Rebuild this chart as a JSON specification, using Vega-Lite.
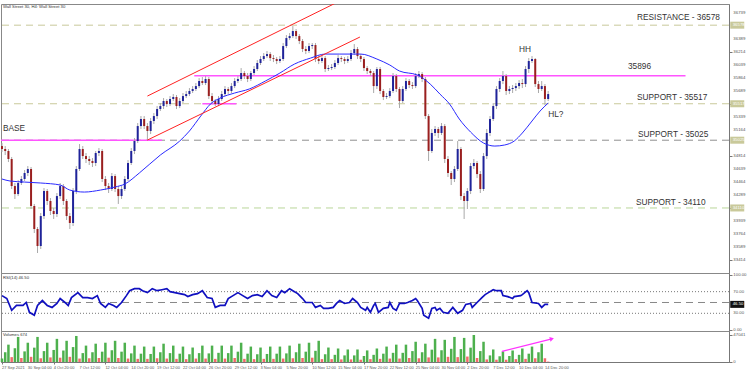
{
  "$schema": "https://vega.github.io/schema/vega-lite/v6.json",
  "background": "white",
  "padding": {"left": -2, "top": 3, "right": 0, "bottom": 0},
  "spacing": 0,
  "bounds": "flush",
  "config": {
    "view": {"stroke": "#888888", "strokeWidth": 1},
    "font": "Liberation Sans",
    "scale": {"continuousPadding": 0},
    "axis": {"labelFont": "Liberation Sans", "labelFontSize": 5, "labelColor": "#555555", "tickColor": "#777777", "domainColor": "#777777", "tickSize": 3, "labelPadding": 1, "grid": false, "title": null}
  },
  "datasets": {
    "candles": [
{"i":0,"o":34946,"h":34987,"l":34865,"c":34906,"v":6000},
{"i":2,"o":34906,"h":34946,"l":34825,"c":34879,"v":17000},
{"i":4,"o":34879,"h":34906,"l":34730,"c":34771,"v":30240},
{"i":6,"o":34771,"h":34798,"l":34366,"c":34406,"v":8500},
{"i":8,"o":34406,"h":34447,"l":34231,"c":34298,"v":24000},
{"i":10,"o":34298,"h":34487,"l":34271,"c":34447,"v":43680},
{"i":12,"o":34447,"h":34541,"l":34420,"c":34501,"v":7000},
{"i":14,"o":34501,"h":34622,"l":34474,"c":34582,"v":18500},
{"i":16,"o":34582,"h":34676,"l":34541,"c":34636,"v":33600},
{"i":18,"o":34636,"h":34663,"l":34096,"c":34137,"v":9000},
{"i":20,"o":34137,"h":34164,"l":33772,"c":33826,"v":25000},
{"i":22,"o":33826,"h":33853,"l":33502,"c":33596,"v":43680},
{"i":24,"o":33596,"h":34042,"l":33556,"c":34001,"v":6500},
{"i":26,"o":34001,"h":34379,"l":33961,"c":34339,"v":19000},
{"i":28,"o":34339,"h":34366,"l":34150,"c":34204,"v":33600},
{"i":30,"o":34204,"h":34244,"l":34015,"c":34069,"v":8000},
{"i":32,"o":34069,"h":34110,"l":33961,"c":34028,"v":21000},
{"i":34,"o":34028,"h":34312,"l":33988,"c":34271,"v":40320},
{"i":36,"o":34271,"h":34447,"l":34231,"c":34406,"v":7500},
{"i":38,"o":34406,"h":34433,"l":34150,"c":34204,"v":20000},
{"i":40,"o":34204,"h":34231,"l":33947,"c":34001,"v":36960},
{"i":42,"o":34001,"h":34042,"l":33826,"c":33907,"v":9000},
{"i":44,"o":33907,"h":34379,"l":33866,"c":34339,"v":26000},
{"i":46,"o":34339,"h":34676,"l":34298,"c":34636,"v":45360},
{"i":48,"o":34636,"h":34973,"l":34609,"c":34906,"v":6000},
{"i":50,"o":34906,"h":34946,"l":34771,"c":34811,"v":15500},
{"i":52,"o":34811,"h":34852,"l":34717,"c":34771,"v":28560},
{"i":54,"o":34771,"h":34811,"l":34690,"c":34744,"v":6500},
{"i":56,"o":34744,"h":34784,"l":34663,"c":34717,"v":17000},
{"i":58,"o":34717,"h":34879,"l":34676,"c":34852,"v":31920},
{"i":60,"o":34852,"h":34919,"l":34811,"c":34879,"v":7000},
{"i":62,"o":34879,"h":34906,"l":34460,"c":34501,"v":18000},
{"i":64,"o":34501,"h":34541,"l":34352,"c":34406,"v":33600},
{"i":66,"o":34406,"h":34447,"l":34312,"c":34366,"v":7500},
{"i":68,"o":34366,"h":34582,"l":34339,"c":34541,"v":20500},
{"i":70,"o":34541,"h":34568,"l":34325,"c":34366,"v":36960},
{"i":72,"o":34366,"h":34406,"l":34164,"c":34271,"v":7000},
{"i":74,"o":34271,"h":34406,"l":34231,"c":34366,"v":18000},
{"i":76,"o":34366,"h":34541,"l":34339,"c":34501,"v":33600},
{"i":78,"o":34501,"h":34757,"l":34474,"c":34717,"v":6000},
{"i":80,"o":34717,"h":34919,"l":34690,"c":34879,"v":15000},
{"i":82,"o":34879,"h":35054,"l":34838,"c":35014,"v":28560},
{"i":84,"o":35014,"h":35257,"l":34987,"c":35216,"v":5500},
{"i":86,"o":35216,"h":35351,"l":35176,"c":35311,"v":14500},
{"i":88,"o":35311,"h":35351,"l":35176,"c":35216,"v":26880},
{"i":90,"o":35216,"h":35257,"l":35027,"c":35149,"v":5500},
{"i":92,"o":35149,"h":35324,"l":35108,"c":35284,"v":14000},
{"i":94,"o":35284,"h":35392,"l":35243,"c":35351,"v":26880},
{"i":96,"o":35351,"h":35486,"l":35311,"c":35446,"v":6500},
{"i":98,"o":35446,"h":35527,"l":35419,"c":35486,"v":17000},
{"i":100,"o":35486,"h":35594,"l":35446,"c":35554,"v":31920},
{"i":102,"o":35554,"h":35581,"l":35473,"c":35513,"v":6000},
{"i":104,"o":35513,"h":35621,"l":35486,"c":35581,"v":15500},
{"i":106,"o":35581,"h":35648,"l":35554,"c":35608,"v":28560},
{"i":108,"o":35608,"h":35635,"l":35446,"c":35486,"v":5500},
{"i":110,"o":35486,"h":35594,"l":35459,"c":35554,"v":14500},
{"i":112,"o":35554,"h":35662,"l":35527,"c":35621,"v":26880},
{"i":114,"o":35621,"h":35689,"l":35594,"c":35648,"v":5000},
{"i":116,"o":35648,"h":35729,"l":35621,"c":35689,"v":13500},
{"i":118,"o":35689,"h":35756,"l":35662,"c":35716,"v":25200},
{"i":120,"o":35716,"h":35797,"l":35689,"c":35756,"v":6000},
{"i":122,"o":35756,"h":35864,"l":35729,"c":35824,"v":15500},
{"i":124,"o":35824,"h":35878,"l":35770,"c":35797,"v":28560},
{"i":126,"o":35797,"h":35891,"l":35770,"c":35851,"v":6000},
{"i":128,"o":35851,"h":35878,"l":35581,"c":35621,"v":15000},
{"i":130,"o":35621,"h":35662,"l":35513,"c":35554,"v":28560},
{"i":132,"o":35554,"h":35581,"l":35486,"c":35513,"v":5500},
{"i":134,"o":35513,"h":35621,"l":35486,"c":35581,"v":16000},
{"i":136,"o":35581,"h":35689,"l":35554,"c":35648,"v":28560},
{"i":138,"o":35648,"h":35756,"l":35621,"c":35716,"v":6000},
{"i":140,"o":35716,"h":35743,"l":35648,"c":35689,"v":15500},
{"i":142,"o":35689,"h":35797,"l":35662,"c":35756,"v":28560},
{"i":144,"o":35756,"h":35864,"l":35729,"c":35824,"v":7000},
{"i":146,"o":35824,"h":35891,"l":35797,"c":35851,"v":18000},
{"i":148,"o":35851,"h":35999,"l":35824,"c":35932,"v":33600},
{"i":150,"o":35932,"h":35959,"l":35851,"c":35891,"v":5500},
{"i":152,"o":35891,"h":35932,"l":35810,"c":35851,"v":14500},
{"i":154,"o":35851,"h":35959,"l":35824,"c":35932,"v":26880},
{"i":156,"o":35932,"h":36026,"l":35905,"c":35986,"v":5000},
{"i":158,"o":35986,"h":36107,"l":35959,"c":36067,"v":13500},
{"i":160,"o":36067,"h":36161,"l":36040,"c":36121,"v":25200},
{"i":162,"o":36121,"h":36202,"l":36094,"c":36161,"v":5500},
{"i":164,"o":36161,"h":36229,"l":36134,"c":36188,"v":14000},
{"i":166,"o":36188,"h":36215,"l":36094,"c":36134,"v":26880},
{"i":168,"o":36134,"h":36175,"l":36080,"c":36121,"v":5500},
{"i":170,"o":36121,"h":36148,"l":36053,"c":36094,"v":14500},
{"i":172,"o":36094,"h":36161,"l":36067,"c":36121,"v":26880},
{"i":174,"o":36121,"h":36337,"l":36094,"c":36296,"v":6000},
{"i":176,"o":36296,"h":36445,"l":36269,"c":36404,"v":15000},
{"i":178,"o":36404,"h":36472,"l":36377,"c":36431,"v":28560},
{"i":180,"o":36431,"h":36566,"l":36404,"c":36499,"v":6500},
{"i":182,"o":36499,"h":36526,"l":36391,"c":36431,"v":17000},
{"i":184,"o":36431,"h":36458,"l":36323,"c":36364,"v":31920},
{"i":186,"o":36364,"h":36391,"l":36215,"c":36256,"v":7000},
{"i":188,"o":36256,"h":36296,"l":36188,"c":36229,"v":18000},
{"i":190,"o":36229,"h":36337,"l":36202,"c":36296,"v":33600},
{"i":192,"o":36296,"h":36337,"l":36256,"c":36310,"v":7500},
{"i":194,"o":36310,"h":36337,"l":36080,"c":36121,"v":19500},
{"i":196,"o":36121,"h":36161,"l":36053,"c":36094,"v":36960},
{"i":198,"o":36094,"h":36175,"l":36067,"c":36134,"v":5000},
{"i":200,"o":36134,"h":36161,"l":35945,"c":35986,"v":13500},
{"i":202,"o":35986,"h":36040,"l":35959,"c":35999,"v":25200},
{"i":204,"o":35999,"h":36053,"l":35972,"c":36013,"v":5000},
{"i":206,"o":36013,"h":36107,"l":35986,"c":36067,"v":12500},
{"i":208,"o":36067,"h":36175,"l":36040,"c":36134,"v":23520},
{"i":210,"o":36134,"h":36161,"l":36080,"c":36121,"v":4500},
{"i":212,"o":36121,"h":36148,"l":36053,"c":36094,"v":11500},
{"i":214,"o":36094,"h":36161,"l":36067,"c":36121,"v":21840},
{"i":216,"o":36121,"h":36242,"l":36094,"c":36202,"v":4500},
{"i":218,"o":36202,"h":36323,"l":36175,"c":36256,"v":11500},
{"i":220,"o":36256,"h":36283,"l":36121,"c":36161,"v":21840},
{"i":222,"o":36161,"h":36188,"l":36080,"c":36121,"v":4000},
{"i":224,"o":36121,"h":36148,"l":35959,"c":35999,"v":10500},
{"i":226,"o":35999,"h":36026,"l":35918,"c":35959,"v":20160},
{"i":228,"o":35959,"h":35986,"l":35891,"c":35932,"v":5000},
{"i":230,"o":35932,"h":35959,"l":35662,"c":35756,"v":12500},
{"i":232,"o":35756,"h":36013,"l":35716,"c":35986,"v":23520},
{"i":234,"o":35986,"h":36013,"l":35648,"c":35689,"v":5500},
{"i":236,"o":35689,"h":35716,"l":35567,"c":35608,"v":14500},
{"i":238,"o":35608,"h":35662,"l":35581,"c":35621,"v":26880},
{"i":240,"o":35621,"h":35729,"l":35594,"c":35689,"v":6000},
{"i":242,"o":35689,"h":35932,"l":35662,"c":35891,"v":16000},
{"i":244,"o":35891,"h":35918,"l":35675,"c":35716,"v":30240},
{"i":246,"o":35716,"h":35743,"l":35459,"c":35554,"v":6000},
{"i":248,"o":35554,"h":35756,"l":35527,"c":35716,"v":16000},
{"i":250,"o":35716,"h":35864,"l":35689,"c":35824,"v":30240},
{"i":252,"o":35824,"h":35851,"l":35729,"c":35770,"v":7000},
{"i":254,"o":35770,"h":35810,"l":35716,"c":35756,"v":19000},
{"i":256,"o":35756,"h":35932,"l":35729,"c":35891,"v":35280},
{"i":258,"o":35891,"h":35959,"l":35864,"c":35918,"v":6500},
{"i":260,"o":35918,"h":35945,"l":35810,"c":35851,"v":17000},
{"i":262,"o":35851,"h":35878,"l":35311,"c":35351,"v":31920},
{"i":264,"o":35351,"h":35378,"l":34744,"c":34879,"v":8000},
{"i":266,"o":34879,"h":35176,"l":34852,"c":35122,"v":21500},
{"i":268,"o":35122,"h":35216,"l":35081,"c":35176,"v":40320},
{"i":270,"o":35176,"h":35203,"l":35054,"c":35122,"v":8000},
{"i":272,"o":35122,"h":35257,"l":35095,"c":35216,"v":20500},
{"i":274,"o":35216,"h":35243,"l":34717,"c":34771,"v":38640},
{"i":276,"o":34771,"h":34811,"l":34528,"c":34582,"v":9000},
{"i":278,"o":34582,"h":34609,"l":34420,"c":34501,"v":23000},
{"i":280,"o":34501,"h":34676,"l":34460,"c":34636,"v":43680},
{"i":282,"o":34636,"h":35014,"l":34609,"c":34906,"v":8500},
{"i":284,"o":34906,"h":34933,"l":34217,"c":34271,"v":22500},
{"i":286,"o":34271,"h":34312,"l":33961,"c":34204,"v":42000},
{"i":288,"o":34204,"h":34379,"l":34096,"c":34339,"v":9500},
{"i":290,"o":34339,"h":34717,"l":34298,"c":34676,"v":25000},
{"i":292,"o":34676,"h":34771,"l":34636,"c":34717,"v":47040},
{"i":294,"o":34717,"h":34744,"l":34514,"c":34568,"v":7000},
{"i":296,"o":34568,"h":34609,"l":34312,"c":34366,"v":19000},
{"i":298,"o":34366,"h":34852,"l":34339,"c":34811,"v":35280},
{"i":300,"o":34811,"h":35176,"l":34771,"c":35122,"v":4500},
{"i":302,"o":35122,"h":35351,"l":35081,"c":35311,"v":11500},
{"i":304,"o":35311,"h":35527,"l":35284,"c":35486,"v":21840},
{"i":306,"o":35486,"h":35756,"l":35446,"c":35716,"v":4000},
{"i":308,"o":35716,"h":35864,"l":35675,"c":35824,"v":10000},
{"i":310,"o":35824,"h":35959,"l":35783,"c":35891,"v":18480},
{"i":312,"o":35891,"h":35918,"l":35635,"c":35689,"v":4000},
{"i":314,"o":35689,"h":35756,"l":35648,"c":35716,"v":10500},
{"i":316,"o":35716,"h":35770,"l":35662,"c":35729,"v":20160},
{"i":318,"o":35729,"h":35797,"l":35689,"c":35756,"v":5000},
{"i":320,"o":35756,"h":35837,"l":35716,"c":35797,"v":12500},
{"i":322,"o":35797,"h":35851,"l":35729,"c":35783,"v":23520},
{"i":324,"o":35783,"h":36026,"l":35743,"c":35986,"v":5500},
{"i":326,"o":35986,"h":36134,"l":35932,"c":36094,"v":14500},
{"i":328,"o":36094,"h":36161,"l":36067,"c":36121,"v":26880},
{"i":330,"o":36121,"h":36134,"l":35743,"c":35783,"v":6500},
{"i":332,"o":35783,"h":35824,"l":35662,"c":35716,"v":17000},
{"i":334,"o":35716,"h":35824,"l":35689,"c":35756,"v":31920},
{"i":336,"o":35756,"h":35783,"l":35500,"c":35581,"v":6500},
{"i":338,"o":35581,"h":35689,"l":35554,"c":35648,"v":674}
    ],
    "ma": [
{"i":0,"p":34501},{"i":5,"p":34474},{"i":14,"p":34460},{"i":24,"p":34447},{"i":36,"p":34420},{"i":42,"p":34352},{"i":51,"p":34325},{"i":61,"p":34352},{"i":70,"p":34393},{"i":76,"p":34433},{"i":85,"p":34582},{"i":98,"p":34825},{"i":110,"p":35014},{"i":116,"p":35149},{"i":123,"p":35351},{"i":129,"p":35513},{"i":135,"p":35594},{"i":144,"p":35662},{"i":153,"p":35716},{"i":163,"p":35824},{"i":172,"p":35932},{"i":181,"p":36053},{"i":191,"p":36134},{"i":200,"p":36188},{"i":209,"p":36188},{"i":222,"p":36188},{"i":232,"p":36121},{"i":240,"p":36040},{"i":246,"p":35959},{"i":257,"p":35905},{"i":265,"p":35783},{"i":271,"p":35648},{"i":277,"p":35513},{"i":283,"p":35311},{"i":290,"p":35135},{"i":298,"p":34987},{"i":305,"p":34946},{"i":311,"p":34960},{"i":317,"p":35014},{"i":322,"p":35122},{"i":328,"p":35284},{"i":333,"p":35419},{"i":338,"p":35527}
    ],
    "rsi": [
{"i":0,"r":62.7},{"i":3,"r":57.3},{"i":6,"r":35.5},{"i":9,"r":44.5},{"i":13,"r":44.5},{"i":15,"r":50.0},{"i":17,"r":31.8},{"i":20,"r":26.4},{"i":22,"r":44.5},{"i":25,"r":53.6},{"i":28,"r":44.5},{"i":31,"r":40.9},{"i":34,"r":48.2},{"i":36,"r":57.3},{"i":39,"r":50.0},{"i":41,"r":44.5},{"i":43,"r":59.1},{"i":47,"r":68.2},{"i":50,"r":59.1},{"i":53,"r":59.1},{"i":56,"r":57.3},{"i":59,"r":62.7},{"i":61,"r":48.2},{"i":64,"r":40.9},{"i":66,"r":48.2},{"i":69,"r":44.5},{"i":71,"r":40.9},{"i":74,"r":50.0},{"i":77,"r":62.7},{"i":79,"r":71.8},{"i":82,"r":75.5},{"i":85,"r":75.5},{"i":87,"r":71.8},{"i":90,"r":68.2},{"i":93,"r":75.5},{"i":96,"r":71.8},{"i":99,"r":73.6},{"i":102,"r":75.5},{"i":104,"r":70.0},{"i":107,"r":68.2},{"i":110,"r":66.4},{"i":113,"r":64.5},{"i":115,"r":60.9},{"i":118,"r":64.5},{"i":121,"r":66.4},{"i":124,"r":71.8},{"i":127,"r":59.1},{"i":130,"r":57.3},{"i":132,"r":40.9},{"i":135,"r":44.5},{"i":138,"r":44.5},{"i":140,"r":57.3},{"i":143,"r":62.7},{"i":146,"r":68.2},{"i":149,"r":62.7},{"i":152,"r":57.3},{"i":155,"r":62.7},{"i":158,"r":64.5},{"i":161,"r":60.9},{"i":164,"r":71.8},{"i":167,"r":62.7},{"i":170,"r":59.1},{"i":173,"r":71.8},{"i":175,"r":68.2},{"i":178,"r":75.5},{"i":180,"r":71.8},{"i":183,"r":66.4},{"i":186,"r":57.3},{"i":188,"r":50.0},{"i":192,"r":50.0},{"i":194,"r":40.9},{"i":197,"r":44.5},{"i":199,"r":39.1},{"i":202,"r":39.1},{"i":205,"r":40.9},{"i":207,"r":48.2},{"i":209,"r":53.6},{"i":212,"r":48.2},{"i":215,"r":50.0},{"i":217,"r":57.3},{"i":220,"r":50.0},{"i":222,"r":40.9},{"i":225,"r":35.5},{"i":226,"r":40.9},{"i":228,"r":31.8},{"i":230,"r":44.5},{"i":231,"r":48.2},{"i":233,"r":31.8},{"i":236,"r":39.1},{"i":239,"r":40.9},{"i":240,"r":50.0},{"i":242,"r":39.1},{"i":244,"r":35.5},{"i":246,"r":48.2},{"i":249,"r":48.2},{"i":251,"r":50.0},{"i":254,"r":53.6},{"i":256,"r":57.3},{"i":257,"r":53.6},{"i":260,"r":39.1},{"i":261,"r":26.4},{"i":264,"r":20.9},{"i":266,"r":39.1},{"i":268,"r":40.9},{"i":269,"r":35.5},{"i":271,"r":39.1},{"i":273,"r":31.8},{"i":276,"r":30.0},{"i":279,"r":40.9},{"i":282,"r":30.0},{"i":285,"r":35.5},{"i":287,"r":46.4},{"i":290,"r":48.2},{"i":291,"r":40.9},{"i":294,"r":50.0},{"i":297,"r":59.1},{"i":299,"r":64.5},{"i":301,"r":68.2},{"i":304,"r":73.6},{"i":306,"r":71.8},{"i":309,"r":71.8},{"i":310,"r":62.7},{"i":313,"r":60.9},{"i":316,"r":57.3},{"i":317,"r":60.9},{"i":321,"r":62.7},{"i":322,"r":64.5},{"i":325,"r":71.8},{"i":326,"r":68.2},{"i":328,"r":50.0},{"i":332,"r":48.2},{"i":334,"r":40.9},{"i":336,"r":46.4},{"i":338,"r":46.4}
    ]
  },
  "vconcat": [
    {
      "width": 728,
      "height": 269,
      "layer": [
        {
          "data": {"values": [{"p": 36578, "t": "res"}, {"p": 35517, "t": "s1"}, {"p": 35025, "t": "s2"}, {"p": 34110, "t": "s3"}]},
          "mark": {"type": "rule", "strokeDash": [7, 5], "strokeWidth": 1},
          "encoding": {
            "y": {"field": "p", "type": "quantitative", "scale": {"domain": [33232, 36864], "nice": false, "zero": false, "padding": 0},
              "axis": {"orient": "right", "labels": false, "values": [36739, 36564, 36389, 36214, 36039, 35864, 35689, 35514, 35339, 35164, 34989, 34814, 34639, 34464, 34289, 34114, 33939, 33764, 33589, 33414]}},
            "color": {"field": "t", "type": "nominal", "scale": {"domain": ["res", "s1", "s2", "s3"], "range": ["#c9c99a", "#c9c99a", "#909090", "#b9d69a"]}, "legend": null}
          }
        },
        {
          "data": {"values": [{"i1": 119, "i2": 423, "p": 35896}, {"i1": -0.6, "i2": 99, "p": 35025}, {"i1": 124, "i2": 145, "p": 35517}]},
          "mark": {"type": "rule", "color": "#ff55ff", "strokeWidth": 1.5},
          "encoding": {
            "x": {"field": "i1", "type": "quantitative", "scale": {"domain": [-0.6, 449.9], "nice": false, "zero": false, "padding": 0}, "axis": null},
            "x2": {"field": "i2"},
            "y": {"field": "p", "type": "quantitative"}
          }
        },
        {
          "data": {"name": "candles"},
          "mark": {"type": "rule", "color": "#a9a9a9", "strokeWidth": 1},
          "encoding": {
            "x": {"field": "i", "type": "quantitative"},
            "y": {"field": "l", "type": "quantitative"},
            "y2": {"field": "h"}
          }
        },
        {
          "data": {"name": "candles"},
          "mark": {"type": "bar", "width": 2},
          "encoding": {
            "x": {"field": "i", "type": "quantitative"},
            "y": {"field": "o", "type": "quantitative"},
            "y2": {"field": "c"},
            "color": {"condition": {"test": "datum.c >= datum.o", "value": "#1f239a"}, "value": "#9a1f1f"}
          }
        },
        {
          "data": {"name": "ma"},
          "mark": {"type": "line", "color": "#2a2aff", "strokeWidth": 1, "interpolate": "monotone"},
          "encoding": {
            "x": {"field": "i", "type": "quantitative"},
            "y": {"field": "p", "type": "quantitative"}
          }
        },
        {
          "data": {"values": [{"line": "upper", "i": 90, "p": 35621}, {"line": "upper", "i": 209, "p": 36904}, {"line": "lower", "i": 90, "p": 35027}, {"line": "lower", "i": 221.5, "p": 36418}]},
          "mark": {"type": "line", "color": "#ff2222", "strokeWidth": 1, "clip": true},
          "encoding": {
            "x": {"field": "i", "type": "quantitative"},
            "y": {"field": "p", "type": "quantitative"},
            "detail": {"field": "line", "type": "nominal"}
          }
        },
        {
          "data": {"values": [
            {"i": 393, "p": 36674, "text": "RESISTANCE - 36578"},
            {"i": 387.4, "p": 36013, "text": "35896"},
            {"i": 393, "p": 35594, "text": "SUPPORT - 35517"},
            {"i": 393.6, "p": 35095, "text": "SUPPORT - 35025"},
            {"i": 392.3, "p": 34177, "text": "SUPPORT - 34110"},
            {"i": 0.6, "p": 35176, "text": "BASE"},
            {"i": 320, "p": 36242, "text": "HH"},
            {"i": 338, "p": 35365, "text": "HL?"}
          ]},
          "mark": {"type": "text", "align": "left", "baseline": "middle", "fontSize": 8.3, "color": "#333333"},
          "encoding": {
            "x": {"field": "i", "type": "quantitative"},
            "y": {"field": "p", "type": "quantitative"},
            "text": {"field": "text"}
          }
        },
        {
          "data": {"values": [{"i": 0.6, "p": 36830, "text": "Wall Street 30, H4: Wall Street 30"}]},
          "mark": {"type": "text", "align": "left", "baseline": "middle", "fontSize": 4.2, "color": "#333333"},
          "encoding": {
            "x": {"field": "i", "type": "quantitative"},
            "y": {"field": "p", "type": "quantitative"},
            "text": {"field": "text"}
          }
        },
        {
          "data": {"values": [{"p": 36739}, {"p": 36389}, {"p": 36214}, {"p": 36039}, {"p": 35864}, {"p": 35689}, {"p": 35339}, {"p": 35164}, {"p": 34814}, {"p": 34639}, {"p": 34464}, {"p": 34289}, {"p": 33939}, {"p": 33764}, {"p": 33589}, {"p": 33414}]},
          "mark": {"type": "text", "align": "left", "baseline": "middle", "fontSize": 4.3, "color": "#555555"},
          "encoding": {
            "x": {"datum": 452.6, "type": "quantitative"},
            "y": {"field": "p", "type": "quantitative"},
            "text": {"field": "p", "type": "quantitative", "format": "d"}
          }
        },
        {
          "data": {"values": [{"p": 36578, "bg": "g"}, {"p": 35517, "bg": "g"}, {"p": 35025, "bg": "k"}, {"p": 34110, "bg": "g"}]},
          "mark": {"type": "tick", "orient": "horizontal", "size": 14, "thickness": 7, "opacity": 1},
          "encoding": {
            "x": {"datum": 455, "type": "quantitative"},
            "y": {"field": "p", "type": "quantitative"},
            "color": {"field": "bg", "type": "nominal", "scale": {"domain": ["g", "k"], "range": ["#86b342", "#111111"]}, "legend": null}
          }
        },
        {
          "data": {"values": [{"p": 36578}, {"p": 35517}, {"p": 35025}, {"p": 34110}]},
          "mark": {"type": "text", "align": "left", "baseline": "middle", "fontSize": 4.3, "color": "#ffffff"},
          "encoding": {
            "x": {"datum": 452.2, "type": "quantitative"},
            "y": {"field": "p", "type": "quantitative"},
            "text": {"field": "p", "type": "quantitative", "format": "d"}
          }
        }
      ]
    },
    {
      "width": 728,
      "height": 58,
      "layer": [
        {
          "data": {"values": [{"r": 70}, {"r": 30}]},
          "mark": {"type": "rule", "strokeDash": [1, 2], "color": "#777777"},
          "encoding": {
            "y": {"field": "r", "type": "quantitative", "scale": {"domain": [-2.7, 104.5], "nice": false, "zero": false, "padding": 0},
              "axis": {"orient": "right", "labels": false, "values": [0, 30, 50, 70, 100]}}
          }
        },
        {
          "data": {"values": [{"r": 50}]},
          "mark": {"type": "rule", "strokeDash": [7, 5], "color": "#888888"},
          "encoding": {"y": {"field": "r", "type": "quantitative"}}
        },
        {
          "data": {"name": "rsi"},
          "mark": {"type": "line", "color": "#1010c0", "strokeWidth": 1.7},
          "encoding": {
            "x": {"field": "i", "type": "quantitative", "scale": {"domain": [-0.6, 449.9], "nice": false, "zero": false, "padding": 0}, "axis": null},
            "y": {"field": "r", "type": "quantitative"}
          }
        },
        {
          "data": {"values": [{"i": 0.6, "r": 95, "text": "RSI(14) 46.50"}]},
          "mark": {"type": "text", "align": "left", "baseline": "middle", "fontSize": 4.2, "color": "#333333"},
          "encoding": {
            "x": {"field": "i", "type": "quantitative"},
            "y": {"field": "r", "type": "quantitative"},
            "text": {"field": "text"}
          }
        },
        {
          "data": {"values": [{"r": 100}, {"r": 70}, {"r": 30}, {"r": 0}]},
          "mark": {"type": "text", "align": "left", "baseline": "middle", "fontSize": 4.3, "color": "#555555"},
          "encoding": {
            "x": {"datum": 452.6, "type": "quantitative"},
            "y": {"field": "r", "type": "quantitative"},
            "text": {"field": "r", "type": "quantitative", "format": ".2f"}
          }
        },
        {
          "data": {"values": [{"r": 46.5}]},
          "mark": {"type": "tick", "orient": "horizontal", "size": 14, "thickness": 7, "color": "#111111", "opacity": 1},
          "encoding": {
            "x": {"datum": 455, "type": "quantitative"},
            "y": {"field": "r", "type": "quantitative"}
          }
        },
        {
          "data": {"values": [{"r": 46.5}]},
          "mark": {"type": "text", "align": "left", "baseline": "middle", "fontSize": 4.3, "color": "#ffffff"},
          "encoding": {
            "x": {"datum": 452.2, "type": "quantitative"},
            "y": {"field": "r", "type": "quantitative"},
            "text": {"field": "r", "type": "quantitative", "format": ".2f"}
          }
        }
      ]
    },
    {
      "width": 728,
      "height": 31,
      "layer": [
        {
          "data": {"name": "candles"},
          "transform": [{"window": [{"op": "lag", "field": "v", "as": "pv"}], "sort": [{"field": "i"}]}],
          "mark": {"type": "bar", "width": 2.5},
          "encoding": {
            "x": {"field": "i", "type": "quantitative", "scale": {"domain": [-0.6, 449.9], "nice": false, "zero": false, "padding": 0},
              "axis": {"orient": "bottom", "labels": false, "tickSize": 2, "values": [0, 16, 32, 48, 64, 80, 96, 112, 128, 144, 160, 176, 192, 208, 224, 240, 256, 272, 288, 304, 320, 336]}},
            "y": {"field": "v", "type": "quantitative", "scale": {"domain": [0, 54010], "nice": false, "padding": 0}, "axis": {"orient": "right", "labels": false, "values": [0, 47041]}},
            "color": {"condition": {"test": "datum.pv == null || datum.v >= datum.pv", "value": "#4db04d"}, "value": "#f26a6a"}
          }
        },
        {
          "data": {"values": [{"i": 309.4, "v": 18480}, {"i": 340.3, "v": 40320}]},
          "mark": {"type": "line", "color": "#ff33ff", "strokeWidth": 1.2},
          "encoding": {
            "x": {"field": "i", "type": "quantitative"},
            "y": {"field": "v", "type": "quantitative"}
          }
        },
        {
          "data": {"values": [{"i": 340.3, "v": 40320}]},
          "mark": {"type": "point", "shape": "triangle-right", "filled": true, "color": "#ff33ff", "size": 22, "angle": 345, "opacity": 1},
          "encoding": {
            "x": {"field": "i", "type": "quantitative"},
            "y": {"field": "v", "type": "quantitative"}
          }
        },
        {
          "data": {"values": [{"v": 47041}, {"v": 0}]},
          "mark": {"type": "text", "align": "left", "baseline": "middle", "fontSize": 4.3, "color": "#555555"},
          "encoding": {
            "x": {"datum": 452.6, "type": "quantitative"},
            "y": {"field": "v", "type": "quantitative"},
            "text": {"field": "v", "type": "quantitative", "format": "d"}
          }
        },
        {
          "data": {"values": [{"i": 0.6, "v": 47500, "text": "Volumes 674"}]},
          "mark": {"type": "text", "align": "left", "baseline": "middle", "fontSize": 4.2, "color": "#333333"},
          "encoding": {
            "x": {"field": "i", "type": "quantitative"},
            "y": {"field": "v", "type": "quantitative"},
            "text": {"field": "text"}
          }
        }
      ]
    },
    {
      "width": 728,
      "height": 9,
      "view": {"stroke": null},
      "data": {"values": [
        {"i": 0, "t": "27 Sep 2021"}, {"i": 16, "t": "30 Sep 04:00"}, {"i": 32, "t": "4 Oct 20:00"}, {"i": 48, "t": "7 Oct 12:00"},
        {"i": 64, "t": "12 Oct 04:00"}, {"i": 80, "t": "14 Oct 20:00"}, {"i": 96, "t": "19 Oct 12:00"}, {"i": 112, "t": "22 Oct 04:00"},
        {"i": 128, "t": "26 Oct 20:00"}, {"i": 144, "t": "29 Oct 12:00"}, {"i": 160, "t": "3 Nov 04:00"}, {"i": 176, "t": "5 Nov 20:00"},
        {"i": 192, "t": "10 Nov 12:00"}, {"i": 208, "t": "15 Nov 04:00"}, {"i": 224, "t": "17 Nov 20:00"}, {"i": 240, "t": "22 Nov 12:00"},
        {"i": 256, "t": "25 Nov 04:00"}, {"i": 272, "t": "30 Nov 04:00"}, {"i": 288, "t": "2 Dec 20:00"}, {"i": 304, "t": "7 Dec 12:00"},
        {"i": 320, "t": "10 Dec 04:00"}, {"i": 336, "t": "14 Dec 20:00"}
      ]},
      "mark": {"type": "text", "align": "left", "baseline": "middle", "fontSize": 4, "color": "#555555"},
      "encoding": {
        "x": {"field": "i", "type": "quantitative", "scale": {"domain": [-0.6, 449.9], "nice": false, "zero": false, "padding": 0}, "axis": null},
        "y": {"datum": 3.2, "type": "quantitative", "scale": {"domain": [0, 9], "nice": false, "zero": false, "padding": 0}, "axis": null},
        "text": {"field": "t"}
      }
    }
  ]
}
